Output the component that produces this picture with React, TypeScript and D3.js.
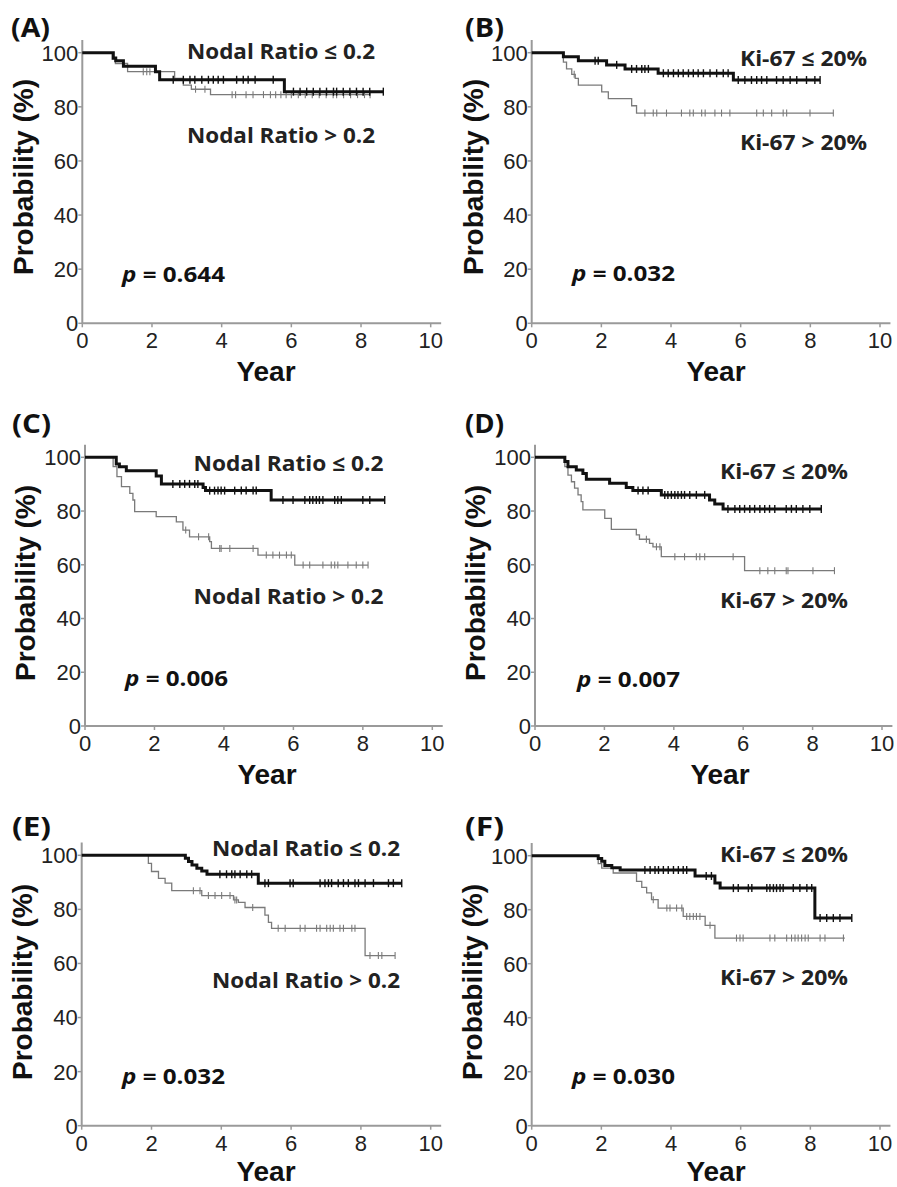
import React from 'react';
import * as d3 from 'd3';

type Step = [number, number];

// ---------- Panel A (Nodal ratio) ----------
const aLowSteps: Step[] = [[0.89, 98], [0.96, 97], [1.18, 95], [2.1, 93], [2.22, 90], [5.8, 85.6]];
const aLowEnd = 8.64;
const aLowCensor = [2.61, 2.9, 3.09, 3.23, 3.43, 3.62, 3.76, 3.9, 4.05, 4.43, 4.62, 4.76, 4.96, 5.48, 6.06, 6.25, 6.44, 6.63, 6.82, 7.01, 7.21, 7.3, 7.49, 7.68, 7.87, 8.06, 8.25, 8.64];
const aHighSteps: Step[] = [[0.86, 97.5], [0.95, 96], [1.3, 93], [2.65, 90.5], [2.9, 88], [3.13, 86.5], [3.68, 84.5]];
const aHighEnd = 8.26;
const aHighCensor = [1.75, 1.85, 1.94, 3.25, 3.52, 4.3, 4.4, 4.7, 4.9, 5.2, 5.4, 5.55, 5.7, 5.85, 6.0, 6.2, 6.4, 6.6, 6.8, 7.0, 7.2, 7.3, 7.5, 7.7, 7.9, 8.1, 8.26];

// ---------- Panel B (Ki-67) ----------
const bLowSteps: Step[] = [[0.91, 98.5], [1.34, 97], [2.15, 95.5], [2.68, 94], [3.63, 92.4], [5.79, 89.9]];
const bLowEnd = 8.28;
const bLowCensor = [1.82, 1.91, 2.44, 2.87, 3.01, 3.16, 3.25, 3.35, 3.78, 3.92, 4.07, 4.21, 4.35, 4.5, 4.64, 4.78, 4.93, 5.12, 5.31, 5.5, 5.64, 5.93, 6.12, 6.31, 6.46, 6.6, 6.75, 7.03, 7.22, 7.42, 7.61, 7.89, 8.13, 8.28];
const bHighSteps: Step[] = [[0.91, 96.5], [1.0, 94], [1.15, 92], [1.25, 90.5], [1.34, 88], [2.01, 85.5], [2.2, 83], [2.87, 80.4], [3.01, 77.7]];
const bHighEnd = 8.66;
const bHighCensor = [1.22, 3.25, 3.49, 3.59, 3.87, 4.3, 4.54, 4.64, 4.88, 4.98, 5.26, 5.45, 5.69, 6.46, 6.65, 6.89, 7.22, 7.32, 7.99, 8.66];

// ---------- Panel C (Nodal ratio) ----------
const cLowSteps: Step[] = [[0.9, 97.5], [0.99, 96.5], [1.19, 95], [2.05, 93], [2.2, 90.1], [3.4, 88.8], [3.47, 87.6], [5.36, 84.1]];
const cLowEnd = 8.63;
const cLowCensor = [2.53, 2.73, 2.87, 3.01, 3.16, 3.25, 3.59, 3.73, 3.83, 3.92, 4.02, 4.31, 4.5, 4.64, 4.84, 4.93, 5.7, 5.99, 6.33, 6.47, 6.56, 6.66, 6.75, 6.85, 7.19, 7.28, 7.38, 8.0, 8.2, 8.63];
const cHighSteps: Step[] = [[0.81, 96.5], [0.92, 92.8], [1.05, 89.1], [1.29, 86.6], [1.38, 84.1], [1.43, 79.8], [2.05, 77.9], [2.63, 76], [2.82, 72.9], [3.01, 70.4], [3.59, 68.6], [3.64, 66.1], [4.98, 63.6], [6.04, 59.9]];
const cHighEnd = 8.15;
const cHighCensor = [2.9, 3.27, 3.56, 3.88, 3.92, 4.17, 4.84, 5.22, 5.41, 5.6, 5.8, 5.94, 6.28, 6.47, 6.85, 7.09, 7.19, 7.28, 7.57, 7.81, 8.0, 8.15];

// ---------- Panel D (Ki-67) ----------
const dLowSteps: Step[] = [[0.86, 98.4], [0.95, 96.5], [1.19, 95.3], [1.38, 94], [1.48, 91.8], [2.15, 90.3], [2.63, 88.8], [2.82, 87.6], [3.64, 86], [5.03, 84.1], [5.18, 82.6], [5.42, 80.8]];
const dLowEnd = 8.25;
const dLowCensor = [2.97, 3.11, 3.26, 3.74, 3.83, 3.93, 4.03, 4.12, 4.22, 4.31, 4.46, 4.65, 4.89, 5.56, 5.76, 5.9, 6.04, 6.19, 6.33, 6.48, 6.62, 6.76, 6.91, 7.24, 7.39, 7.53, 7.72, 7.92, 8.25];
const dHighSteps: Step[] = [[0.86, 96.5], [0.95, 93.4], [1.05, 90.9], [1.14, 88.5], [1.24, 86], [1.33, 83.5], [1.38, 80.4], [2.01, 77.3], [2.2, 73.2], [2.92, 71.1], [3.01, 69.5], [3.3, 68], [3.4, 66.7], [3.64, 63], [6.04, 57.8]];
const dHighEnd = 8.63;
const dHighCensor = [3.21, 3.5, 3.6, 4.03, 4.31, 4.65, 4.75, 4.89, 5.71, 6.48, 6.71, 6.91, 7.24, 7.29, 8.01, 8.63];

// ---------- Panel E (Nodal ratio) ----------
const eLowSteps: Step[] = [[2.97, 98.9], [3.06, 97.7], [3.16, 96.4], [3.3, 95.2], [3.44, 94.2], [3.59, 93], [5.06, 89.7]];
const eLowEnd = 9.17;
const eLowCensor = [3.96, 4.15, 4.3, 4.39, 4.54, 4.73, 4.87, 5.25, 5.35, 5.97, 6.06, 6.83, 6.97, 7.07, 7.16, 7.35, 7.5, 7.64, 7.83, 7.93, 8.12, 8.36, 8.79, 8.93, 9.17];
const eHighSteps: Step[] = [[1.91, 97], [2.0, 94], [2.2, 91.5], [2.39, 89.7], [2.58, 86.9], [3.44, 85.1], [4.35, 83.5], [4.49, 82.6], [4.68, 80.7], [5.25, 77.9], [5.35, 75.2], [5.44, 73], [8.12, 62.9]];
const eHighEnd = 8.98;
const eHighCensor = [3.2, 3.39, 3.63, 3.82, 4.01, 4.25, 4.39, 4.44, 4.9, 5.63, 5.83, 6.26, 6.4, 6.73, 6.83, 7.02, 7.12, 7.21, 7.4, 7.5, 7.74, 7.83, 8.26, 8.5, 8.6, 8.98];

// ---------- Panel F (Ki-67) ----------
const fLowSteps: Step[] = [[1.91, 99], [2.01, 97.9], [2.1, 96.4], [2.3, 95.5], [2.54, 94.7], [4.69, 92.5], [5.26, 89.9], [5.41, 88], [8.13, 76.9]];
const fLowEnd = 9.19;
const fLowCensor = [3.25, 3.4, 3.54, 3.64, 3.78, 3.92, 4.07, 4.21, 4.35, 4.45, 5.01, 5.16, 5.79, 5.93, 6.22, 6.32, 6.75, 6.84, 6.94, 7.03, 7.13, 7.22, 7.51, 7.7, 7.9, 8.04, 8.28, 8.47, 8.66, 8.85, 9.19];
const fHighSteps: Step[] = [[1.91, 97.1], [2.01, 95.4], [2.34, 93.6], [3.01, 90.5], [3.16, 88.3], [3.3, 86.2], [3.44, 83.7], [3.63, 80.6], [4.35, 77.5], [4.98, 74.2], [5.26, 69.5]];
const fHighEnd = 8.99;
const fHighCensor = [3.49, 3.88, 3.97, 4.16, 4.31, 4.45, 4.54, 4.64, 4.73, 4.83, 5.12, 5.88, 5.98, 6.07, 6.84, 6.98, 7.32, 7.46, 7.56, 7.65, 7.75, 7.85, 7.94, 8.28, 8.42, 8.95];

// ---------- Text / ticks ----------
const xTicks = [0, 2, 4, 6, 8, 10];
const yTicks = [0, 20, 40, 60, 80, 100];
const panelLetters = ['(A)', '(B)', '(C)', '(D)', '(E)', '(F)'];
const nodalLabels = ['Nodal Ratio \u2264 0.2', 'Nodal Ratio > 0.2'];
const kiLabels = ['Ki-67 \u2264 20%', 'Ki-67 > 20%'];
const pValues = ['0.644', '0.032', '0.006', '0.007', '0.032', '0.030'];

interface Curve { steps: Step[]; end: number; censor: number[]; }
interface PanelCfg {
  letter: string; letterX: number; letterY: number;
  x0: number; x10: number; y0: number; y100: number;
  low: Curve; high: Curve;
  labels: string[]; labX: number; labW: number; labY1: number; labY2: number;
  p: string; pX: number; pY: number;
  yTitleX: number; yTitleY: number; yearX: number; yearY: number;
}

const panels: PanelCfg[] = [
  { letter: panelLetters[0], letterX: 11, letterY: 37, x0: 82.3, x10: 430.7, y0: 323.3, y100: 52.7,
    low: { steps: aLowSteps, end: aLowEnd, censor: aLowCensor }, high: { steps: aHighSteps, end: aHighEnd, censor: aHighCensor },
    labels: nodalLabels, labX: 187, labW: 188, labY1: 59, labY2: 142.5, p: pValues[0], pX: 122, pY: 282,
    yTitleX: 33, yTitleY: 177, yearX: 266, yearY: 381 },
  { letter: panelLetters[1], letterX: 465, letterY: 37, x0: 531.7, x10: 880, y0: 323.3, y100: 52.7,
    low: { steps: bLowSteps, end: bLowEnd, censor: bLowCensor }, high: { steps: bHighSteps, end: bHighEnd, censor: bHighCensor },
    labels: kiLabels, labX: 740, labW: 127, labY1: 66, labY2: 150, p: pValues[1], pX: 572, pY: 281,
    yTitleX: 483, yTitleY: 177, yearX: 716, yearY: 381 },
  { letter: panelLetters[2], letterX: 12, letterY: 433, x0: 85, x10: 432.3, y0: 726, y100: 457.3,
    low: { steps: cLowSteps, end: cLowEnd, censor: cLowCensor }, high: { steps: cHighSteps, end: cHighEnd, censor: cHighCensor },
    labels: nodalLabels, labX: 193.5, labW: 190, labY1: 470.7, labY2: 604, p: pValues[2], pX: 125, pY: 686,
    yTitleX: 35, yTitleY: 583, yearX: 267, yearY: 784 },
  { letter: panelLetters[3], letterX: 465, letterY: 433, x0: 535, x10: 882, y0: 726, y100: 457.3,
    low: { steps: dLowSteps, end: dLowEnd, censor: dLowCensor }, high: { steps: dHighSteps, end: dHighEnd, censor: dHighCensor },
    labels: kiLabels, labX: 720, labW: 128, labY1: 479, labY2: 608, p: pValues[3], pX: 577, pY: 686.5,
    yTitleX: 485, yTitleY: 583, yearX: 720, yearY: 784 },
  { letter: panelLetters[4], letterX: 12, letterY: 836, x0: 81.7, x10: 430.7, y0: 1125.7, y100: 855.3,
    low: { steps: eLowSteps, end: eLowEnd, censor: eLowCensor }, high: { steps: eHighSteps, end: eHighEnd, censor: eHighCensor },
    labels: nodalLabels, labX: 212, labW: 188, labY1: 855.7, labY2: 988, p: pValues[4], pX: 122, pY: 1084,
    yTitleX: 32, yTitleY: 982, yearX: 266, yearY: 1181 },
  { letter: panelLetters[5], letterX: 465, letterY: 836, x0: 531.7, x10: 880, y0: 1125.7, y100: 855.7,
    low: { steps: fLowSteps, end: fLowEnd, censor: fLowCensor }, high: { steps: fHighSteps, end: fHighEnd, censor: fHighCensor },
    labels: kiLabels, labX: 720, labW: 128, labY1: 861.7, labY2: 985, p: pValues[5], pX: 572, pY: 1084,
    yTitleX: 482, yTitleY: 982, yearX: 716, yearY: 1181 },
];

const AXIS_COLOR = '#9a9a9a';
const TICK_TEXT = '#222';
const ARIAL = '"Liberation Sans", Arial, sans-serif';
const LABEL_FONT = '"Open Sans", "Noto Sans", sans-serif';

function curvePoints(c: Curve): Step[] {
  const pts: Step[] = [[0, 100], ...c.steps];
  const last = pts[pts.length - 1][1];
  pts.push([c.end, last]);
  return pts;
}
function survivalAt(c: Curve, t: number): number {
  let s = 100;
  for (const [tt, v] of c.steps) if (tt <= t) s = v;
  return s;
}

function Panel({ cfg }: { cfg: PanelCfg }) {
  const x = d3.scaleLinear().domain([0, 10]).range([cfg.x0, cfg.x10]);
  const y = d3.scaleLinear().domain([0, 100]).range([cfg.y0, cfg.y100]);
  const line = d3.line<Step>().x(d => x(d[0])).y(d => y(d[1])).curve(d3.curveStepAfter);

  const renderCurve = (c: Curve, thick: boolean) => {
    const color = thick ? '#111' : '#7a7a7a';
    const half = thick ? 4 : 3.5;
    return (
      <g>
        <path d={line(curvePoints(c)) || ''} fill="none" stroke={color} strokeWidth={thick ? 3 : 1.3} />
        {c.censor.map((t, i) => {
          const cx = x(t), cy = y(survivalAt(c, t));
          return <line key={i} x1={cx} x2={cx} y1={cy - half} y2={cy + half} stroke={color} strokeWidth={thick ? 1.4 : 1.1} />;
        })}
      </g>
    );
  };

  return (
    <g>
      <text x={cfg.letterX} y={cfg.letterY} fontFamily={LABEL_FONT} fontWeight={700} fontSize={26} textLength={39} lengthAdjust="spacingAndGlyphs" fill="#111">{cfg.letter}</text>
      {/* axes */}
      <line x1={x(0)} x2={x(0)} y1={y(0)} y2={y(104.7)} stroke={AXIS_COLOR} strokeWidth={2} />
      <line x1={x(0)} x2={x(10.3)} y1={y(0)} y2={y(0)} stroke={AXIS_COLOR} strokeWidth={2} />
      {yTicks.map(v => (
        <g key={'y' + v}>
          <line x1={x(0) - 4} x2={x(0)} y1={y(v)} y2={y(v)} stroke={AXIS_COLOR} strokeWidth={1.5} />
          <text x={x(0) - 4} y={y(v)} dy="0.36em" textAnchor="end" fontFamily={ARIAL} fontSize={22} fill={TICK_TEXT}>{v}</text>
        </g>
      ))}
      {xTicks.map(v => (
        <g key={'x' + v}>
          <line x1={x(v)} x2={x(v)} y1={y(0)} y2={y(0) + 4} stroke={AXIS_COLOR} strokeWidth={1.5} />
          <text x={x(v)} y={y(0) + 25} textAnchor="middle" fontFamily={ARIAL} fontSize={22} fill={TICK_TEXT}>{v}</text>
        </g>
      ))}
      <text transform={`translate(${cfg.yTitleX},${cfg.yTitleY}) rotate(-90)`} textAnchor="middle" fontFamily={ARIAL} fontWeight={700} fontSize={28} fill="#111">Probability (%)</text>
      <text x={cfg.yearX} y={cfg.yearY} textAnchor="middle" fontFamily={ARIAL} fontWeight={700} fontSize={28} fill="#111">Year</text>
      {/* curves */}
      {renderCurve(cfg.high, false)}
      {renderCurve(cfg.low, true)}
      {/* labels */}
      <text x={cfg.labX} y={cfg.labY1} fontFamily={LABEL_FONT} fontWeight={700} fontSize={21} textLength={cfg.labW} lengthAdjust="spacingAndGlyphs" fill="#222">{cfg.labels[0]}</text>
      <text x={cfg.labX} y={cfg.labY2} fontFamily={LABEL_FONT} fontWeight={700} fontSize={21} textLength={cfg.labW} lengthAdjust="spacingAndGlyphs" fill="#222">{cfg.labels[1]}</text>
      <text x={cfg.pX} y={cfg.pY} fontFamily={LABEL_FONT} fontWeight={700} fontSize={21} textLength={103} lengthAdjust="spacingAndGlyphs" fill="#111">
        <tspan fontStyle="italic">p</tspan> = {cfg.p}
      </text>
    </g>
  );
}

export default function App() {
  return (
    <svg width={897} height={1187} style={{ position: 'absolute', left: 0, top: 0, background: '#fff' }}>
      <rect width={897} height={1187} fill="#fff" />
      {panels.map((p, i) => <Panel key={i} cfg={p} />)}
    </svg>
  );
}
